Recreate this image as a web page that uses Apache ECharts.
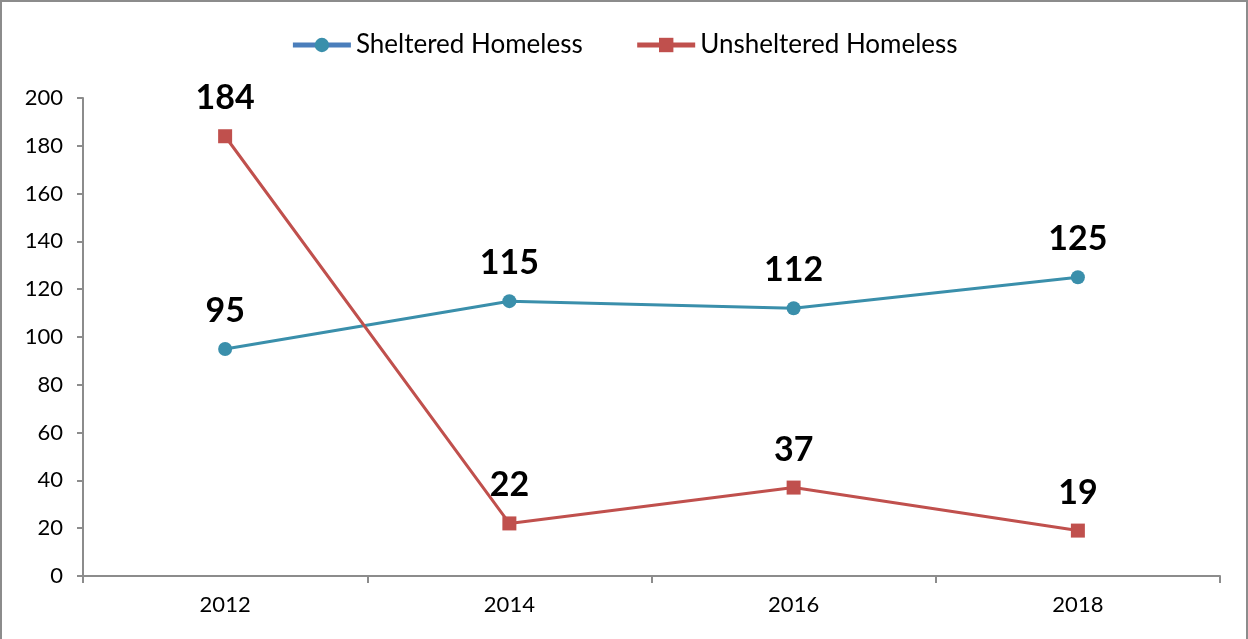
<!DOCTYPE html>
<html>
<head>
    <meta charset="utf-8">
    <title>Homeless count</title>
    <style>
        html, body { margin: 0; padding: 0; background: #fff; }
        #chart {
            width: 1244px;
            height: 639px;
            border: 2px solid #8c8c8c;
            border-bottom: none;
        }
    </style>
</head>
<body>
<div id="chart"></div>
<script src="https://cdn.jsdelivr.net/npm/echarts@6/dist/echarts.min.js"></script>
<script>
    var years = ['2012', '2014', '2016', '2018'];
    var sheltered = [95, 115, 112, 125];
    var unsheltered = [184, 22, 37, 19];
    var yTicks = {min: 0, max: 200, interval: 20};

    var font = 'Lato';
    var labelStyle = {
        show: true,
        position: 'top',
        distance: 14,
        fontFamily: font,
        fontWeight: 'bold',
        fontSize: 34,
        color: '#000'
    };

    var option = {
        backgroundColor: '#fff',
        animation: false,
        legend: {
            top: 25,
            left: 'center',
            itemWidth: 58,
            itemHeight: 18,
            itemGap: 52,
            textStyle: {fontFamily: font, fontSize: 26, color: '#000'},
            data: [
                {name: 'Sheltered Homeless', lineStyle: {color: '#4a7ebb', width: 5}},
                {name: 'Unsheltered Homeless', lineStyle: {color: '#c0504d', width: 5}}
            ]
        },
        grid: {left: 81, right: 26, top: 96, bottom: 65},
        xAxis: {
            type: 'category',
            data: years,
            boundaryGap: true,
            axisLine: {lineStyle: {color: '#8c8c8c', width: 2}},
            axisTick: {show: true, alignWithLabel: false, length: 7, lineStyle: {color: '#8c8c8c', width: 2}},
            axisLabel: {fontFamily: font, fontSize: 22, color: '#000', margin: 18}
        },
        yAxis: {
            type: 'value',
            min: yTicks.min,
            max: yTicks.max,
            interval: yTicks.interval,
            axisLine: {show: true, lineStyle: {color: '#8c8c8c', width: 2}},
            axisTick: {show: true, length: 6, lineStyle: {color: '#8c8c8c', width: 2}},
            splitLine: {show: false},
            axisLabel: {fontFamily: font, fontSize: 22, color: '#000', margin: 20}
        },
        series: [
            {
                name: 'Sheltered Homeless',
                type: 'line',
                data: sheltered,
                symbol: 'circle',
                symbolSize: 14,
                lineStyle: {color: '#3a8fab', width: 3},
                itemStyle: {color: '#3a8fab'},
                label: labelStyle
            },
            {
                name: 'Unsheltered Homeless',
                type: 'line',
                data: unsheltered,
                symbol: 'rect',
                symbolSize: 14,
                lineStyle: {color: '#c0504d', width: 3},
                itemStyle: {color: '#c0504d'},
                label: labelStyle
            }
        ]
    };

    var mychart = echarts.init(document.getElementById('chart'));
    mychart.setOption(option);
</script>
</body>
</html>
